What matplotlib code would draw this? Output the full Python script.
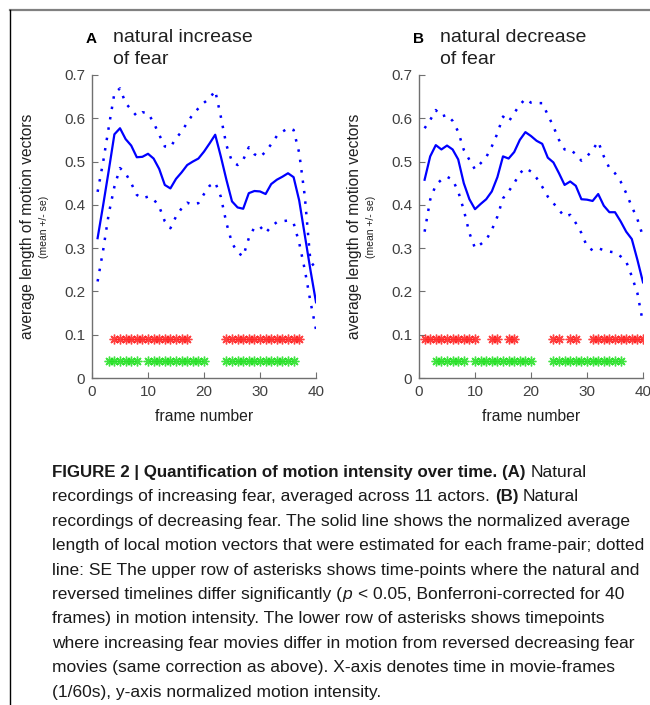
import matplotlib
matplotlib.use('Agg')
import matplotlib.pyplot as plt
from matplotlib.lines import Line2D
import numpy as np

frames = np.arange(1, 41)

# panel A: natural increase of fear
mean_a = [0.323, 0.40, 0.48, 0.563, 0.577, 0.552, 0.537, 0.510, 0.511, 0.518,
          0.507, 0.483, 0.446, 0.438, 0.460, 0.475, 0.492, 0.500, 0.507, 0.523,
          0.542, 0.562, 0.512, 0.458, 0.408, 0.394, 0.391, 0.427, 0.432, 0.431,
          0.425, 0.448, 0.458, 0.465, 0.473, 0.464, 0.410, 0.330, 0.250, 0.175]
upper_a = [0.430, 0.500, 0.580, 0.658, 0.669, 0.635, 0.620, 0.605, 0.614, 0.612,
           0.590, 0.562, 0.535, 0.533, 0.554, 0.569, 0.590, 0.609, 0.623, 0.636,
           0.646, 0.664, 0.604, 0.538, 0.500, 0.492, 0.504, 0.533, 0.517, 0.510,
           0.523, 0.540, 0.559, 0.569, 0.577, 0.573, 0.520, 0.420, 0.270, 0.252]
lower_a = [0.223, 0.296, 0.380, 0.442, 0.485, 0.473, 0.450, 0.423, 0.415, 0.419,
           0.413, 0.396, 0.362, 0.346, 0.373, 0.392, 0.405, 0.400, 0.404, 0.425,
           0.444, 0.452, 0.419, 0.358, 0.312, 0.290, 0.281, 0.323, 0.348, 0.350,
           0.335, 0.350, 0.360, 0.362, 0.364, 0.358, 0.312, 0.250, 0.177, 0.112]
red_a = list(range(4, 18)) + list(range(24, 38))
green_a = list(range(3, 9)) + list(range(10, 21)) + list(range(24, 37))

# panel B: natural decrease of fear
mean_b = [0.458, 0.512, 0.538, 0.528, 0.537, 0.528, 0.505, 0.450, 0.413, 0.390,
          0.402, 0.413, 0.431, 0.464, 0.512, 0.507, 0.522, 0.550, 0.568, 0.559,
          0.548, 0.541, 0.509, 0.498, 0.473, 0.446, 0.454, 0.444, 0.413, 0.412,
          0.409, 0.425, 0.398, 0.383, 0.383, 0.362, 0.338, 0.321, 0.273, 0.221]
upper_b = [0.577, 0.596, 0.619, 0.604, 0.608, 0.594, 0.569, 0.527, 0.504, 0.482,
           0.496, 0.510, 0.535, 0.565, 0.604, 0.592, 0.612, 0.631, 0.645, 0.636,
           0.635, 0.635, 0.608, 0.581, 0.550, 0.528, 0.528, 0.517, 0.502, 0.512,
           0.527, 0.546, 0.512, 0.485, 0.473, 0.454, 0.427, 0.396, 0.367, 0.327]
lower_b = [0.338, 0.412, 0.446, 0.458, 0.465, 0.458, 0.431, 0.388, 0.335, 0.300,
           0.309, 0.319, 0.342, 0.373, 0.415, 0.431, 0.450, 0.473, 0.485, 0.477,
           0.462, 0.442, 0.419, 0.404, 0.388, 0.373, 0.377, 0.358, 0.335, 0.304,
           0.295, 0.300, 0.295, 0.292, 0.290, 0.281, 0.269, 0.235, 0.196, 0.127]
red_b = (list(range(1, 11)) + [13, 14, 16, 17, 24, 25, 27, 28]
         + list(range(31, 41)))
green_b = list(range(3, 9)) + list(range(10, 21)) + list(range(24, 37))

red_level = 0.09
green_level = 0.04

panel_letters = ['A', 'B']
panel_titles = ['natural increase', 'of fear'], ['natural decrease', 'of fear']
yticks = [0, 0.1, 0.2, 0.3, 0.4, 0.5, 0.6, 0.7]
xticks = [0, 10, 20, 30, 40]

# caption runs: (text, weight, style); a leading space means a word gap
caption = [
    [('FIGURE 2 | Quantification of motion intensity over time. (A)', 'bold', 'normal'),
     (' Natural', 'normal', 'normal')],
    [('recordings of increasing fear, averaged across 11 actors.', 'normal', 'normal'),
     (' (B)', 'bold', 'normal'), (' Natural', 'normal', 'normal')],
    [('recordings of decreasing fear. The solid line shows the normalized average', 'normal', 'normal')],
    [('length of local motion vectors that were estimated for each frame-pair; dotted', 'normal', 'normal')],
    [('line: SE The upper row of asterisks shows time-points where the natural and', 'normal', 'normal')],
    [('reversed timelines differ significantly (', 'normal', 'normal'),
     ('p', 'normal', 'italic'),
     (' < 0.05, Bonferroni-corrected for 40', 'normal', 'normal')],
    [('frames) in motion intensity. The lower row of asterisks shows timepoints', 'normal', 'normal')],
    [('where increasing fear movies differ in motion from reversed decreasing fear', 'normal', 'normal')],
    [('movies (same correction as above). X-axis denotes time in movie-frames', 'normal', 'normal')],
    [('(1/60s), y-axis normalized motion intensity.', 'normal', 'normal')],
]

plt.rcParams['font.family'] = ['Liberation Sans', 'DejaVu Sans']

W, H = 650, 705
fig = plt.figure(figsize=(6.5, 7.05), dpi=100)

# frame around the figure
fig.add_artist(Line2D([10 / W, 1], [1 - 10 / H, 1 - 10 / H], color='#808080', lw=1.6,
                      transform=fig.transFigure))
fig.add_artist(Line2D([10 / W, 10 / W], [0, 1 - 10 / H], color='black', lw=1.0,
                      transform=fig.transFigure))

gray = '#404040'
panels = [(mean_a, upper_a, lower_a, red_a, green_a, 92),
          (mean_b, upper_b, lower_b, red_b, green_b, 419)]

for i, (m, up, lo, red, green, left_px) in enumerate(panels):
    ax = fig.add_axes([left_px / W, 1 - 378 / H, 224 / W, 303 / H])
    ax.plot(frames, m, color='#0000ff', lw=1.6)
    ax.plot(frames, up, color='#0000ff', lw=1.8, linestyle=(0, (1, 3.2)))
    ax.plot(frames, lo, color='#0000ff', lw=1.8, linestyle=(0, (1, 3.2)))
    ax.plot(red, [red_level] * len(red), linestyle='none', marker=(8, 2, 0),
            color='#ff2020', ms=7, mew=1.0, alpha=0.85)
    ax.plot(green, [green_level] * len(green), linestyle='none', marker=(8, 2, 0),
            color='#20e020', ms=7, mew=1.0, alpha=0.85)
    ax.set_xlim(0, 40)
    ax.set_ylim(0, 0.7)
    ax.set_xticks(xticks)
    ax.set_yticks(yticks)
    ax.set_yticklabels(['0'] + ['%.1f' % v for v in yticks[1:]])
    for s in ['top', 'right']:
        ax.spines[s].set_visible(False)
    for s in ['left', 'bottom']:
        ax.spines[s].set_color('#707070')
        ax.spines[s].set_linewidth(1.0)
    ax.tick_params(direction='in', length=4, width=0.8, color='#707070',
                   labelcolor=gray, labelsize=11, pad=5)
    ax.set_xlabel('frame number', fontsize=11.3, color='#202020', labelpad=7)
    ax.text(-0.286, 0.5, 'average length of motion vectors', transform=ax.transAxes,
            rotation=90, ha='center', va='center', fontsize=11.2, color='#202020')
    ax.text(-0.215, 0.5, '(mean +/- se)', transform=ax.transAxes,
            rotation=90, ha='center', va='center', fontsize=7.5, color='#202020')
    fig.text((left_px + 5) / W, 1 - 43 / H, panel_letters[i], fontsize=11,
             fontweight='bold', ha='right', va='baseline')
    for j, line in enumerate(panel_titles[i]):
        fig.text((left_px + 21) / W, 1 - (42 + 22 * j) / H, line, fontsize=14,
                 ha='left', va='baseline', color='#202020')

# caption with mixed styles
renderer = fig.canvas.get_renderer()


def run_props(weight, style):
    size = 12.2 if weight == 'bold' else 12.55
    return dict(family=['Liberation Sans', 'DejaVu Sans'], fontsize=size,
                fontweight=weight, fontstyle=style)


def text_width(s, weight, style):
    t = fig.text(0, 0, s, **run_props(weight, style))
    w = t.get_window_extent(renderer).width
    t.remove()
    return w


space_w = text_width('a a', 'normal', 'normal') - text_width('aa', 'normal', 'normal')

for k, runs in enumerate(caption):
    x = 52
    yb = 477 + 24.4 * k
    for s, weight, style in runs:
        if s.startswith(' '):
            x += space_w
            s = s.lstrip()
        t = fig.text(x / W, 1 - yb / H, s, ha='left', va='baseline', color='#1a1a1a',
                     **run_props(weight, style))
        x += t.get_window_extent(renderer).width + (1.5 if style == 'italic' else 0)

fig.savefig('out.png', dpi=100)
